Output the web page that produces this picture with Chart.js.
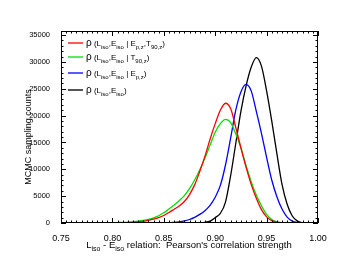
<!DOCTYPE html>
<html lang="en">
<head>
<meta charset="UTF-8">
<title>MCMC correlation strength</title>
<script src="https://cdn.jsdelivr.net/npm/chart.js"></script>
<style>
  html, body { margin: 0; padding: 0; background: #fff; }
  canvas { display: block; }
</style>
</head>
<body>
<canvas id="corrChart" width="341" height="264"></canvas>
<script>
// Pearson's correlation strength (x) and MCMC sampling counts per curve
const rhoValues = [
  0.750, 0.755, 0.760, 0.765, 0.770, 0.775, 0.780, 0.785, 0.790, 0.795,
  0.800, 0.805, 0.810, 0.815, 0.820, 0.825, 0.830, 0.835, 0.840, 0.845,
  0.850, 0.855, 0.860, 0.865, 0.870, 0.875, 0.880, 0.885, 0.890, 0.895,
  0.900, 0.905, 0.910, 0.915, 0.920, 0.925, 0.930, 0.935, 0.940, 0.945,
  0.950, 0.955, 0.960, 0.965, 0.970, 0.975, 0.980, 0.985, 0.990, 0.995, 1.000
];
const countsEpT90 = [
  0, 0, 0, 0, 0, 0, 0, 0, 2, 5,
  14, 28, 50, 85, 135, 210, 320, 480, 700, 1000,
  1400, 1950, 2550, 3150, 4000, 5300, 7100, 9600, 12400, 15600,
  18500, 21000, 22300, 21300, 17800, 14000, 10400, 7200, 4600, 2500,
  1150, 450, 150, 40, 10, 0, 0, 0, 0, 0, 0
];
const countsT90 = [
  0, 0, 0, 2, 4, 6, 8, 12, 20, 35,
  55, 85, 120, 170, 240, 340, 480, 680, 950, 1350,
  1900, 2600, 3350, 4150, 5100, 6400, 8000, 9900, 12100, 14500,
  16900, 18500, 19300, 18700, 16600, 14000, 10700, 7700, 5200, 3200,
  1600, 650, 220, 70, 20, 5, 0, 0, 0, 0, 0
];
const countsEp = [
  0, 0, 0, 0, 0, 0, 0, 0, 0, 0,
  0, 0, 0, 0, 0, 0, 0, 0, 0, 0,
  20, 50, 100, 200, 380, 650, 1050, 1600, 2300, 3300,
  4800, 7000, 10800, 15800, 21000, 24400, 25800, 24600, 20800, 16700,
  12200, 8000, 4900, 2600, 1100, 350, 80, 10, 0, 0, 0
];
const countsPlain = [
  0, 0, 0, 0, 0, 0, 0, 0, 0, 0,
  0, 0, 0, 0, 0, 0, 0, 0, 0, 0,
  0, 0, 0, 0, 0, 0, 10, 40, 120, 350,
  1000, 1800, 3900, 8800, 14800, 20800, 25500, 29000, 30800, 29200,
  24600, 19000, 12900, 7200, 3500, 1300, 350, 60, 0, 0, 0
];
const xTicks = [0.75, 0.80, 0.85, 0.90, 0.95, 1.00];
const yTicks = [0, 5000, 10000, 15000, 20000, 25000, 30000, 35000];

const FONT = '"Liberation Sans", Arial, Helvetica, sans-serif';

// legend entries: [text, fontSize, isSubscript]
const legendRows = [
  { color: '#ff0000', parts: [['ρ', 10], [' (L', 8], ['iso', 6, 1], [',E', 8], ['iso', 6, 1], [' | E', 8], ['p,z', 6, 1], [',T', 8], ['90,z', 6, 1], [')', 8]] },
  { color: '#00e000', parts: [['ρ', 10], [' (L', 8], ['iso', 6, 1], [',E', 8], ['iso', 6, 1], [' | T', 8], ['90,z', 6, 1], [')', 8]] },
  { color: '#0000ff', parts: [['ρ', 10], [' (L', 8], ['iso', 6, 1], [',E', 8], ['iso', 6, 1], [' | E', 8], ['p,z', 6, 1], [')', 8]] },
  { color: '#555555', parts: [['ρ', 10], [' (L', 8], ['iso', 6, 1], [',E', 8], ['iso', 6, 1], [')', 8]] }
];
const xTitleParts = [['L', 9.5], ['iso', 7, 1], [' - E', 9.5], ['iso', 7, 1], [' relation:  Pearson\'s correlation strength', 9.5]];

function richWidth(ctx, parts) {
  let w = 0;
  parts.forEach(p => { ctx.font = p[1] + 'px ' + FONT; w += ctx.measureText(p[0]).width; });
  return w;
}
function drawRich(ctx, x, y, parts) {
  ctx.textAlign = 'left';
  ctx.textBaseline = 'alphabetic';
  parts.forEach(p => {
    ctx.font = p[1] + 'px ' + FONT;
    ctx.fillText(p[0], x, y + (p[2] ? 2.5 : 0));
    x += ctx.measureText(p[0]).width;
  });
}

const framePlugin = {
  id: 'frame',
  afterDraw(chart) {
    const ctx = chart.ctx;
    const a = chart.chartArea;
    const xs = chart.scales.x, ys = chart.scales.y;
    ctx.save();
    ctx.strokeStyle = '#000';
    ctx.lineWidth = 1;
    ctx.strokeRect(a.left + 0.5, a.top + 0.5, a.right - a.left - 1, a.bottom - a.top - 1);
    ctx.beginPath();
    // x ticks every 0.005, major every 0.05
    for (let i = 0; i <= 50; i++) {
      const px = Math.round(xs.getPixelForValue(0.75 + i * 0.005)) + 0.5;
      const len = i % 10 === 0 ? 5 : 2.5;
      ctx.moveTo(px, a.bottom); ctx.lineTo(px, a.bottom - len);
      ctx.moveTo(px, a.top); ctx.lineTo(px, a.top + len);
    }
    // y ticks every 1000, major every 5000
    for (let v = 0; v <= 35000; v += 1000) {
      const py = Math.round(ys.getPixelForValue(v)) + 0.5;
      const len = v % 5000 === 0 ? 5 : 2.5;
      ctx.moveTo(a.left, py); ctx.lineTo(a.left + len, py);
      ctx.moveTo(a.right, py); ctx.lineTo(a.right - len, py);
    }
    ctx.stroke();

    // legend
    ctx.fillStyle = '#000';
    const rowY = [43, 57, 73, 90];
    legendRows.forEach((row, i) => {
      ctx.strokeStyle = row.color;
      ctx.lineWidth = i === 3 ? 2 : 1.3;
      ctx.beginPath();
      ctx.moveTo(68, rowY[i]); ctx.lineTo(83, rowY[i]);
      ctx.stroke();
      drawRich(ctx, 86, rowY[i] + 3, row.parts);
    });

    // axis titles
    const w = richWidth(ctx, xTitleParts);
    drawRich(ctx, 189 - w / 2, 248, xTitleParts);
    ctx.translate(31, 137);
    ctx.rotate(-Math.PI / 2);
    ctx.font = '9px ' + FONT;
    ctx.textAlign = 'center';
    ctx.fillText('MCMC sampling counts', 0, 0);
    ctx.restore();
  }
};

const series = [
  { label: 'rho(Liso,Eiso | Ep,z,T90,z)', data: countsEpT90, color: '#ff0000' },
  { label: 'rho(Liso,Eiso | T90,z)', data: countsT90, color: '#00e000' },
  { label: 'rho(Liso,Eiso | Ep,z)', data: countsEp, color: '#0000ff' },
  { label: 'rho(Liso,Eiso)', data: countsPlain, color: '#000000' }
];

new Chart(document.getElementById('corrChart').getContext('2d'), {
  type: 'line',
  data: {
    datasets: series.map(s => ({
      label: s.label,
      data: rhoValues.map((x, i) => ({ x: x, y: s.data[i] })),
      borderColor: s.color,
      borderWidth: 1.3,
      pointRadius: 0,
      cubicInterpolationMode: 'monotone',
      fill: false
    }))
  },
  options: {
    responsive: false,
    animation: false,
    layout: { padding: { left: 0, right: 23, top: 31, bottom: 0 } },
    plugins: { legend: { display: false }, tooltip: { enabled: false } },
    scales: {
      x: {
        type: 'linear',
        min: 0.75,
        max: 1.0,
        afterBuildTicks: s => { s.ticks = xTicks.map(v => ({ value: v })); },
        afterFit: s => { s.height = 41; },
        grid: { display: false },
        border: { display: false },
        ticks: {
          color: '#000',
          padding: 2,
          maxRotation: 0,
          font: { family: FONT, size: 9 },
          callback: v => v.toFixed(2)
        }
      },
      y: {
        min: 0,
        max: 35750,
        afterBuildTicks: s => { s.ticks = yTicks.map(v => ({ value: v })); },
        afterFit: s => { s.width = 61; },
        grid: { display: false },
        border: { display: false },
        ticks: {
          color: '#000',
          padding: 3,
          font: { family: FONT, size: 7.5 },
          callback: v => String(v)
        }
      }
    }
  },
  plugins: [framePlugin]
});
</script>
</body>
</html>
